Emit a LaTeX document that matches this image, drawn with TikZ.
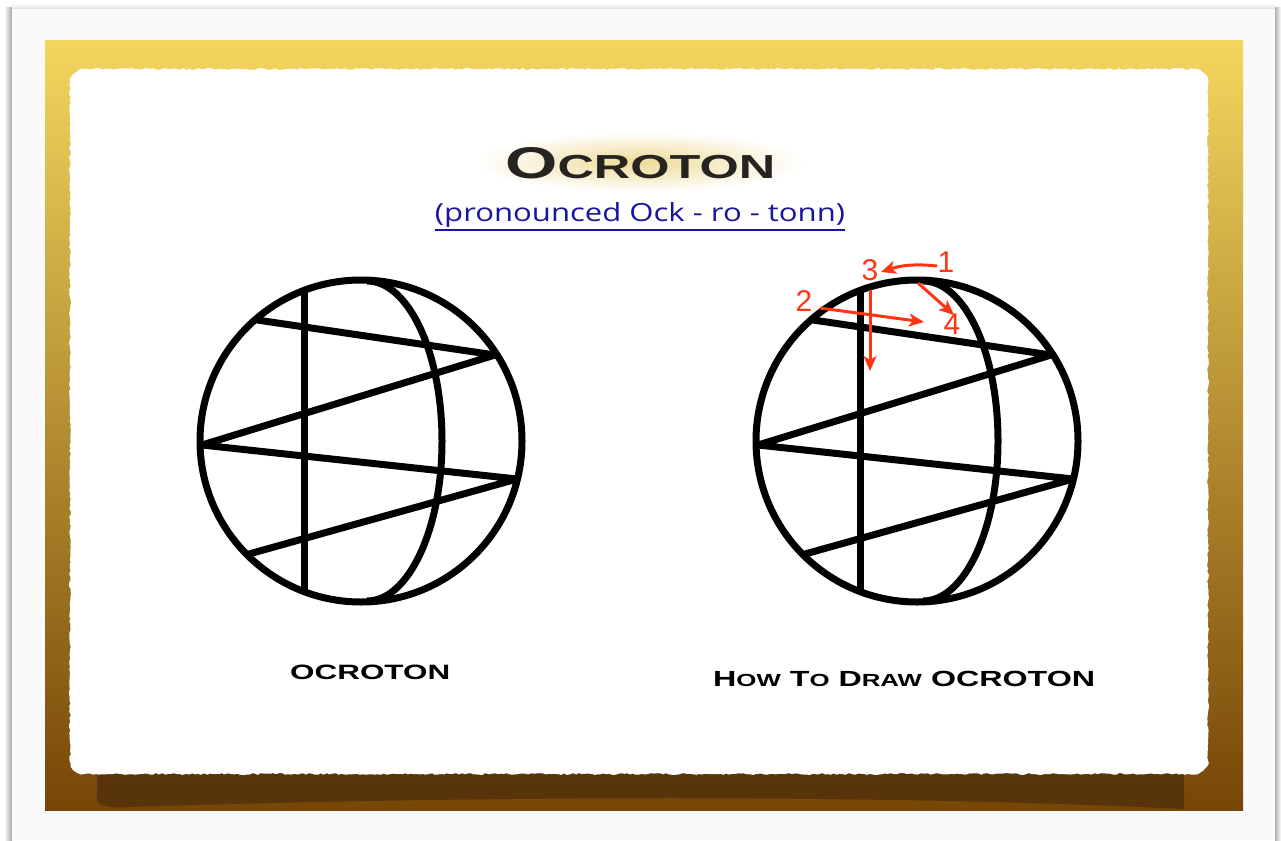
\documentclass[tikz,border=0pt]{standalone}
\usepackage{fontspec}
\usetikzlibrary{arrows.meta, decorations.pathmorphing}

\newfontfamily\capsfont{Liberation Sans}
\newfontfamily\linkfont{Open Sans}
\newfontfamily\stepfont{Liberation Sans}

\definecolor{goldtop}{RGB}{243,214,94}
\definecolor{goldmid}{RGB}{207,165,62}
\definecolor{goldbot}{RGB}{118,70,6}
\definecolor{shadebrown}{RGB}{82,49,10}
\definecolor{stepred}{RGB}{255,52,18}
\definecolor{linkblue}{RGB}{22,22,160}
\definecolor{titleink}{RGB}{38,36,32}
\definecolor{glowgold}{RGB}{238,218,150}

% words in fake small capitals
\newcommand{\titleword}{\resizebox{270pt}{31pt}{\capsfont\bfseries\fontsize{40}{40}\selectfont O\fontsize{30}{30}\selectfont CROTON}}
\newcommand{\leftcaption}{\resizebox{160pt}{14.5pt}{\capsfont\bfseries\fontsize{20}{20}\selectfont OCROTON}}
\newcommand{\rightcaption}{\resizebox{382pt}{15.3pt}{\capsfont\bfseries\fontsize{20}{20}\selectfont H{\fontsize{16}{16}\selectfont OW} T{\fontsize{16}{16}\selectfont O} D{\fontsize{16}{16}\selectfont RAW} OCROTON}}

\begin{document}
\begin{tikzpicture}[x=1pt, y=-1pt,
    glyph/.style={line width=7pt, line join=bevel},
    steparrow/.style={stepred, line width=3pt, -{Stealth[length=15pt, width=13pt, inset=4pt]}},
    steplabel/.style={stepred, inner sep=0pt, font=\stepfont\fontsize{30}{30}\selectfont},
    ocroton/.pic={
        % outer circle
        \draw[glyph] (0,0) circle[radius=161];
        % upright stroke
        \draw[glyph] (-57,-151) -- (-57,150);
        % curved meridian
        \draw[glyph] (6,-160) arc[start angle=-90, end angle=90, x radius=75, y radius=160];
        % zig-zag
        \draw[glyph] (-104,-121) -- (134,-86) -- (-159,4) -- (156,38) -- (-112,113);
    }]

    \useasboundingbox (0,0) rectangle (1281,840);

    % page and card
    \fill[white] (0,0) rectangle (1281,840);
    \shade[left color=white, right color=black!35] (4,8) rectangle (12,840);
    \shade[left color=black!30, right color=white] (1275,8) rectangle (1281,840);
    \shade[top color=white, bottom color=black!12] (12,3) rectangle (1275,9);
    \fill[black!2] (12,9) rectangle (1275,840);

    % gold frame
    \shade[top color=goldtop, middle color=goldmid, bottom color=goldbot] (45,41) rectangle (1243,810);

    % shadow under the paper
    \fill[shadebrown, opacity=.85] (97,760) -- (97,798) .. controls (97,807) and (110,808) .. (130,807)
        .. controls (500,795) and (900,795) .. (1184,809) -- (1184,760) -- cycle;

    % torn paper
    \pgfmathsetseed{7}
    \fill[white, decorate, decoration={random steps, segment length=3pt, amplitude=.9pt}]
        (84,69) -- (1194,69) arc[start angle=-90, end angle=0, radius=14]
        -- (1208,760) arc[start angle=0, end angle=90, radius=14]
        -- (84,774) arc[start angle=90, end angle=180, radius=14]
        -- (70,83) arc[start angle=180, end angle=270, radius=14] -- cycle;

    % title with a soft glow
    \shade[inner color=glowgold, outer color=white] (640,162) ellipse[x radius=165, y radius=30];
    \node[titleink, anchor=base west, inner sep=0pt] (title) at (505,178) {\titleword};

    \node[linkblue, anchor=base, inner sep=0pt] (subtitle) at (640,221)
        {\resizebox{410pt}{19pt}{\linkfont\fontsize{24}{24}\selectfont (pronounced Ock - ro - tonn)}};
    \draw[linkblue, line width=1.4pt] ([yshift=-9pt]subtitle.base west) -- ([yshift=-9pt]subtitle.base east);

    % the two glyphs
    \pic (plain) at (361,441) {ocroton};
    \pic (guide) at (917,441) {ocroton};

    % captions
    \node[anchor=base west, inner sep=0pt] (leftcap) at (290,679) {\leftcaption};
    \node[anchor=base west, inner sep=0pt] (rightcap) at (713,686) {\rightcaption};

    % stroke order
    \node[steplabel] (n1) at (946,262) {1};
    \node[steplabel] (n2) at (804,301) {2};
    \node[steplabel] (n3) at (870,270) {3};
    \node[steplabel] (n4) at (952,324) {4};

    \coordinate (a1s) at (937,266);
    \coordinate (a1e) at (881,272);
    \coordinate (a2s) at (820,308);
    \coordinate (a2e) at (924,322);
    \coordinate (a3s) at (870,290);
    \coordinate (a3e) at (870,371);
    \coordinate (a4s) at (918,283);
    \coordinate (a4e) at (954,315);

    \draw[steparrow] (a1s) to[bend right=12] (a1e);
    \draw[steparrow] (a2s) -- (a2e);
    \draw[steparrow] (a3s) -- (a3e);
    \draw[steparrow] (a4s) -- (a4e);
\end{tikzpicture}
\end{document}
